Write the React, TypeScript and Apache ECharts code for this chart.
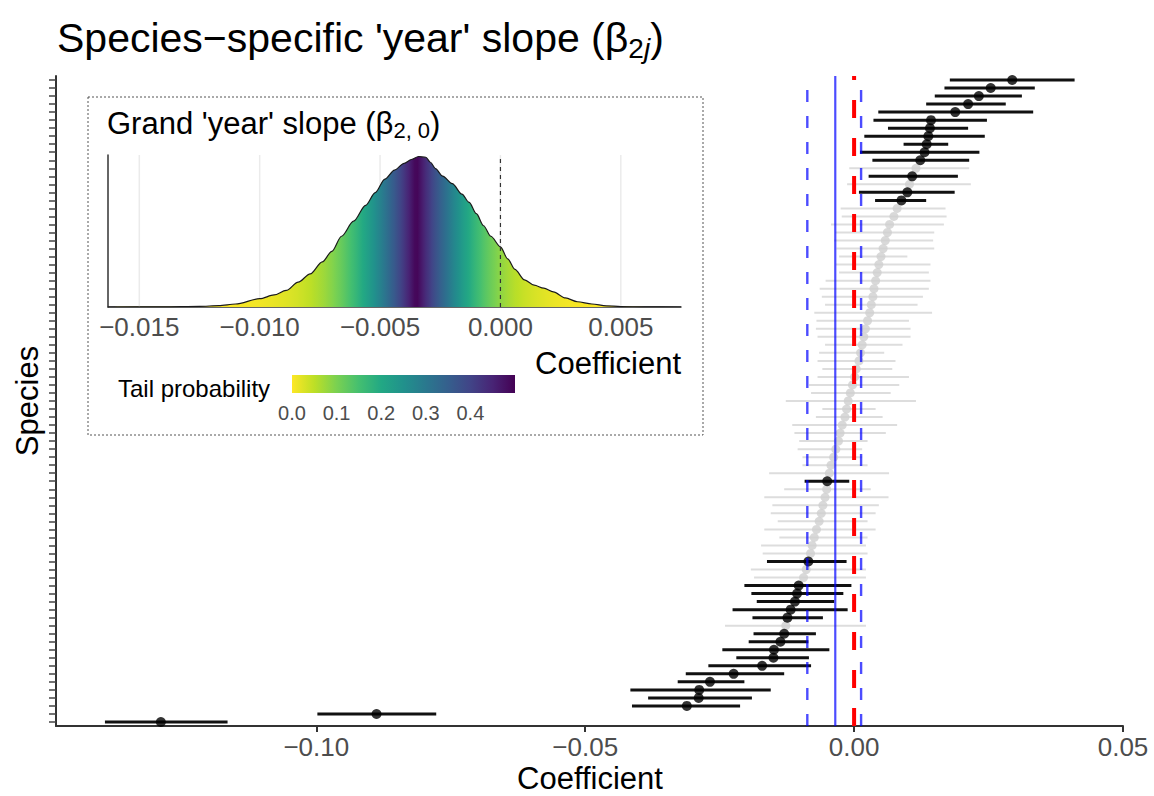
import { useEffect, useRef } from "react";
import * as echarts from "echarts";

// species-specific 'year' slopes, ordered top (largest) to bottom
const estimate = [
  0.0294, 0.0254, 0.0232, 0.0212, 0.0188, 0.0143, 0.0141, 0.0138, 0.0135, 0.0131,
  0.0123, 0.0115, 0.0108, 0.0103, 0.0099, 0.0088, 0.008, 0.0074, 0.0066, 0.0062,
  0.0058, 0.0054, 0.005, 0.0046, 0.0043, 0.004, 0.0037, 0.0035, 0.0032, 0.0029,
  0.0025, 0.0021, 0.0018, 0.0015, 0.0012, 0.0009, 0.0004, 0.0001, -0.0003, -0.0007,
  -0.0011, -0.0014, -0.0017, -0.0022, -0.0026, -0.0029, -0.0034, -0.0038, -0.0043, -0.0046,
  -0.005, -0.0051, -0.0054, -0.0058, -0.0061, -0.0065, -0.007, -0.0074, -0.0078, -0.0081,
  -0.0085, -0.0089, -0.0094, -0.0103, -0.0106, -0.011, -0.0118, -0.0124, -0.0127, -0.013,
  -0.0137, -0.0149, -0.015, -0.0171, -0.0224, -0.0268, -0.0288, -0.0289, -0.0311, -0.0888,
  -0.1289,
];
const lower = [
  0.0178, 0.0168, 0.015, 0.0134, 0.0045, 0.0036, 0.0063, 0.0019, 0.0092, 0.0011,
  0.0034, -0.0009, 0.0027, -0.0013, 0.0009, 0.0039, -0.0025, -0.0023, -0.0043, -0.0035,
  -0.0037, -0.0033, -0.0028, -0.0034, -0.0028, -0.0053, -0.0064, -0.006, -0.0054, -0.0074,
  -0.007, -0.0071, -0.0068, -0.0054, -0.0065, -0.0068, -0.0059, -0.0068, -0.0084, -0.008,
  -0.0127, -0.0059, -0.0071, -0.0115, -0.0111, -0.0102, -0.0105, -0.0096, -0.0096, -0.0158,
  -0.0092, -0.013, -0.0167, -0.0152, -0.0155, -0.0142, -0.0167, -0.0139, -0.0173, -0.017,
  -0.0162, -0.0192, -0.0186, -0.0204, -0.0191, -0.0181, -0.0226, -0.0189, -0.024, -0.0187,
  -0.0196, -0.0245, -0.0219, -0.0271, -0.0313, -0.0328, -0.0416, -0.0383, -0.0413, -0.0998,
  -0.1393,
];
const upper = [
  0.041, 0.0336, 0.0312, 0.0282, 0.0333, 0.0247, 0.0212, 0.0243, 0.0175, 0.0233,
  0.0214, 0.0214, 0.0193, 0.0217, 0.0187, 0.0134, 0.017, 0.0172, 0.0167, 0.0149,
  0.0147, 0.0149, 0.0099, 0.0142, 0.0139, 0.0142, 0.0139, 0.0128, 0.0118, 0.0145,
  0.0102, 0.0105, 0.0105, 0.009, 0.0056, 0.0077, 0.0071, 0.0102, 0.0084, 0.0068,
  0.0115, 0.004, 0.0053, 0.008, 0.0059, 0.0025, 0.0015, 0.0015, 0.0025, 0.0065,
  -0.0009, 0.0031, 0.0064, 0.0046, 0.004, 0.0025, 0.004, 0.0025, 0.0022, 0.0025,
  -0.0014, 0.0022, 0.0022, -0.0005, -0.002, -0.0037, -0.0012, -0.0058, 0.0022, -0.0071,
  -0.0085, -0.0046, -0.0084, -0.008, -0.013, -0.0204, -0.0155, -0.019, -0.0212, -0.0777,
  -0.1165,
];
const species = estimate.map((_, i) => `sp${i + 1}`);

// grand slope summary (posterior mean and interval)
const grandMean = -0.0035;
const grandLower = -0.0087;
const grandUpper = 0.0013;

const mainTicks = [-0.1, -0.05, 0, 0.05];
const insetTicks = [-0.015, -0.01, -0.005, 0, 0.005];
const legendTicks = [0, 0.1, 0.2, 0.3, 0.4];

// posterior density of the grand slope (relative height)
const densityX = [
  -0.0163, -0.014, -0.0125, -0.0117, -0.011, -0.01, -0.0094, -0.0089, -0.0084, -0.0079,
  -0.0074, -0.007, -0.0066, -0.0061, -0.0056, -0.0052, -0.0048, -0.0044, -0.004, -0.0037,
  -0.0034, -0.0031, -0.0029, -0.0027, -0.0024, -0.002, -0.0016, -0.0013, -0.001, -0.0007,
  -0.0004, 0.0, 0.0003, 0.0006, 0.001, 0.0014, 0.0018, 0.0022, 0.0027, 0.0032,
  0.0038, 0.0044, 0.005, 0.006, 0.0075,
];
const densityY = [
  0, 0.001, 0.004, 0.009, 0.02, 0.055, 0.08, 0.11, 0.165, 0.22,
  0.3, 0.37, 0.47, 0.57, 0.675, 0.76, 0.85, 0.91, 0.955, 0.98,
  1.0, 0.995, 0.96, 0.92, 0.87, 0.82, 0.75, 0.695, 0.62, 0.54,
  0.47, 0.4, 0.32, 0.25, 0.18, 0.145, 0.125, 0.1, 0.06, 0.035,
  0.02, 0.008, 0.003, 0.0005, 0,
];

const FONT = "'Liberation Sans', Arial, sans-serif";
const VIRIDIS = [
  "#440154", "#482475", "#414487", "#355F8D", "#2A788E", "#21918C",
  "#22A884", "#44BF70", "#7AD151", "#BDDF26", "#FDE725",
];

function hexRgb(h: string) {
  return [1, 3, 5].map((i) => parseInt(h.slice(i, i + 2), 16));
}

function viridis(t: number) {
  const c = Math.min(1, Math.max(0, t)) * (VIRIDIS.length - 1);
  const i = Math.min(VIRIDIS.length - 2, Math.floor(c));
  const f = c - i;
  const a = hexRgb(VIRIDIS[i]);
  const b = hexRgb(VIRIDIS[i + 1]);
  const m = a.map((v, k) => Math.round(v + (b[k] - v) * f));
  return `rgb(${m[0]},${m[1]},${m[2]})`;
}

function fmt(v: number, d: number) {
  const s = Math.abs(v).toFixed(d);
  return v < -1e-12 ? "\u2212" + s : s;
}

// colour of the density by tail probability
function tailGradient() {
  const cum = [0];
  for (let i = 1; i < densityX.length; i++) {
    cum.push(cum[i - 1] + ((densityY[i] + densityY[i - 1]) / 2) * (densityX[i] - densityX[i - 1]));
  }
  const total = cum[cum.length - 1];
  const x0 = densityX[0];
  const x1 = densityX[densityX.length - 1];
  const stops: { offset: number; color: string }[] = [];
  const n = 200;
  let j = 0;
  for (let k = 0; k <= n; k++) {
    const x = x0 + ((x1 - x0) * k) / n;
    while (j < densityX.length - 2 && densityX[j + 1] < x) j++;
    const f = (x - densityX[j]) / (densityX[j + 1] - densityX[j]);
    const p = (cum[j] + (cum[j + 1] - cum[j]) * f) / total;
    const tail = Math.min(p, 1 - p);
    stops.push({ offset: k / n, color: viridis(1 - 2 * tail) });
  }
  return new echarts.graphic.LinearGradient(0, 0, 1, 0, stops);
}

function barRenderer(color: string, width: number) {
  return (_params: any, api: any) => {
    const a = api.coord([api.value(0), api.value(2)]);
    const b = api.coord([api.value(1), api.value(2)]);
    return {
      type: "line",
      shape: { x1: a[0], y1: a[1], x2: b[0], y2: a[1] },
      style: { stroke: color, lineWidth: width },
    };
  };
}

function vlineRenderer(color: string, width: number, dash?: number[]) {
  return (params: any, api: any) => {
    const cs = params.coordSys;
    const x = api.coord([api.value(0), 0])[0];
    return {
      type: "line",
      shape: { x1: x, y1: cs.y + cs.height, x2: x, y2: cs.y },
      style: { stroke: color, lineWidth: width, lineDash: dash || null },
    };
  };
}

const App = () => {
  const chartRef = useRef<HTMLDivElement>(null);

  useEffect(() => {
    document.body.style.margin = "0";
    const chart = echarts.init(chartRef.current, null, { renderer: "svg" });

    const sig = estimate.map((_, i) => lower[i] > 0 || upper[i] < 0);
    const greyBars: number[][] = [];
    const blackBars: number[][] = [];
    const greyPts: number[][] = [];
    const blackPts: number[][] = [];
    estimate.forEach((e, i) => {
      (sig[i] ? blackBars : greyBars).push([lower[i], upper[i], i]);
      (sig[i] ? blackPts : greyPts).push([e, i]);
    });

    const blue = "rgba(0,0,255,0.7)";
    const tickText = { fontSize: 26, color: "#4D4D4D", fontFamily: FONT };

    const options: any = {
      animation: false,
      textStyle: { fontFamily: FONT },
      grid: [
        { left: 56, right: 31, top: 76, bottom: 70, outerBoundsMode: "none" },
        { left: 108, right: 473, top: 155, bottom: 489, outerBoundsMode: "none" },
      ],
      xAxis: [
        {
          type: "value",
          gridIndex: 0,
          min: -0.1484,
          max: 0.05,
          axisLine: { show: true, onZero: false, lineStyle: { color: "#333", width: 2 } },
          axisTick: { show: true, customValues: mainTicks, length: 6, lineStyle: { color: "#333", width: 2 } },
          axisLabel: { show: true, customValues: mainTicks, formatter: (v: number) => fmt(v, 2), margin: 8, ...tickText },
          splitLine: { show: false },
        },
        {
          type: "value",
          gridIndex: 1,
          min: -0.0163,
          max: 0.0075,
          axisLine: { show: true, onZero: false, lineStyle: { color: "#333", width: 1.5 } },
          axisTick: { show: false },
          axisLabel: { show: true, customValues: insetTicks, formatter: (v: number) => fmt(v, 3), margin: 7, ...tickText },
          splitLine: { show: false },
        },
      ],
      yAxis: [
        {
          type: "category",
          gridIndex: 0,
          data: species,
          inverse: true,
          boundaryGap: true,
          axisLine: { show: true, onZero: false, lineStyle: { color: "#333", width: 2 } },
          axisTick: { show: true, interval: 0, alignWithLabel: true, length: 7, lineStyle: { color: "#444", width: 1.5 } },
          axisLabel: { show: false },
          splitLine: { show: false },
        },
        {
          type: "value",
          gridIndex: 1,
          min: 0,
          max: 1.01,
          axisLine: { show: true, onZero: false, lineStyle: { color: "#333", width: 1.5 } },
          axisTick: { show: false },
          axisLabel: { show: false },
          splitLine: { show: false },
        },
      ],
      series: [
        {
          type: "custom",
          xAxisIndex: 0,
          yAxisIndex: 0,
          data: greyBars,
          encode: { x: [0, 1], y: 2 },
          renderItem: barRenderer("#DDDDDD", 2),
          z: 2,
          silent: true,
        },
        {
          type: "scatter",
          xAxisIndex: 0,
          yAxisIndex: 0,
          data: greyPts,
          symbolSize: 9,
          itemStyle: { color: "#CFCFCF" },
          z: 3,
          silent: true,
        },
        {
          type: "custom",
          xAxisIndex: 0,
          yAxisIndex: 0,
          data: blackBars,
          encode: { x: [0, 1], y: 2 },
          renderItem: barRenderer("#111111", 3),
          z: 4,
          silent: true,
        },
        {
          type: "scatter",
          xAxisIndex: 0,
          yAxisIndex: 0,
          data: blackPts,
          symbolSize: 10,
          itemStyle: { color: "#000" },
          z: 5,
          silent: true,
        },
        {
          type: "custom",
          xAxisIndex: 0,
          yAxisIndex: 0,
          data: [[grandLower, 0], [grandUpper, 0]],
          encode: { x: 0, y: 1 },
          renderItem: vlineRenderer(blue, 2.4, [12, 14]),
          z: 6,
          silent: true,
        },
        {
          type: "custom",
          xAxisIndex: 0,
          yAxisIndex: 0,
          data: [[grandMean, 0]],
          encode: { x: 0, y: 1 },
          renderItem: vlineRenderer(blue, 2.2),
          z: 6,
          silent: true,
        },
        {
          type: "custom",
          xAxisIndex: 0,
          yAxisIndex: 0,
          data: [[0, 0]],
          encode: { x: 0, y: 1 },
          renderItem: vlineRenderer("#FF0000", 4, [18, 20]),
          z: 7,
          silent: true,
        },
        // inset: grand slope density
        {
          type: "custom",
          xAxisIndex: 1,
          yAxisIndex: 1,
          data: insetTicks.map((v) => [v, 0]),
          encode: { x: 0, y: 1 },
          renderItem: vlineRenderer("#EBEBEB", 1.5),
          z: 1,
          silent: true,
        },
        {
          type: "line",
          xAxisIndex: 1,
          yAxisIndex: 1,
          data: densityX.map((x, i) => [x, densityY[i]]),
          showSymbol: false,
          smooth: 0.3,
          smoothMonotone: "x",
          lineStyle: { color: "#1A1A1A", width: 1.2 },
          areaStyle: { color: tailGradient(), opacity: 1 },
          z: 2,
          silent: true,
        },
        {
          type: "custom",
          xAxisIndex: 1,
          yAxisIndex: 1,
          data: [[0, 0]],
          encode: { x: 0, y: 1 },
          renderItem: vlineRenderer("#333", 1.2, [4, 4]),
          z: 3,
          silent: true,
        },
      ],
      graphic: [
        {
          type: "rect",
          shape: { x: 88, y: 97, width: 615, height: 338 },
          style: { fill: "none", stroke: "#555", lineWidth: 1, lineDash: [2, 2] },
          silent: true,
        },
        {
          type: "text",
          x: 57,
          y: 38,
          style: {
            text: "{m|Species\u2212specific 'year' slope (\u03B2}{s|2}{si|j}{m|)}",
            align: "left",
            verticalAlign: "middle",
            rich: {
              m: { fontSize: 41, fontFamily: FONT, fill: "#000", lineHeight: 48 },
              s: { fontSize: 28, fontFamily: FONT, fill: "#000", lineHeight: 24, verticalAlign: "bottom" },
              si: { fontSize: 28, fontFamily: FONT, fontStyle: "italic", fill: "#000", lineHeight: 24, verticalAlign: "bottom" },
            },
          },
        },
        {
          type: "text",
          x: 590,
          y: 778,
          style: { text: "Coefficient", font: `31px ${FONT}`, fill: "#000", align: "center", verticalAlign: "middle" },
        },
        {
          type: "text",
          x: 27,
          y: 401,
          rotation: Math.PI / 2,
          style: { text: "Species", font: `31px ${FONT}`, fill: "#000", align: "center", verticalAlign: "middle" },
        },
        {
          type: "text",
          x: 107,
          y: 123,
          style: {
            text: "{m|Grand 'year' slope (\u03B2}{s|2, 0}{m|)}",
            align: "left",
            verticalAlign: "middle",
            rich: {
              m: { fontSize: 31, fontFamily: FONT, fill: "#000", lineHeight: 36 },
              s: { fontSize: 22, fontFamily: FONT, fill: "#000", lineHeight: 18, verticalAlign: "bottom" },
            },
          },
        },
        {
          type: "text",
          x: 681,
          y: 363,
          style: { text: "Coefficient", font: `31px ${FONT}`, fill: "#000", align: "right", verticalAlign: "middle" },
        },
        {
          type: "text",
          x: 118,
          y: 388,
          style: { text: "Tail probability", font: `24px ${FONT}`, fill: "#000", align: "left", verticalAlign: "middle" },
        },
        {
          type: "rect",
          shape: { x: 292, y: 375, width: 223, height: 18 },
          style: {
            fill: new echarts.graphic.LinearGradient(
              0, 0, 1, 0,
              VIRIDIS.map((_, k) => ({ offset: k / (VIRIDIS.length - 1), color: VIRIDIS[VIRIDIS.length - 1 - k] }))
            ),
          },
          silent: true,
        },
        ...legendTicks.map((t) => ({
          type: "text",
          x: 292 + (t / 0.5) * 223,
          y: 413,
          style: { text: t.toFixed(1), font: `20px ${FONT}`, fill: "#4D4D4D", align: "center", verticalAlign: "middle" },
        })),
      ],
    };

    chart.setOption(options);
    return () => {
      chart.dispose();
    };
  }, []);

  return <div ref={chartRef} style={{ width: "1154px", height: "796px" }}></div>;
};

export default App;
